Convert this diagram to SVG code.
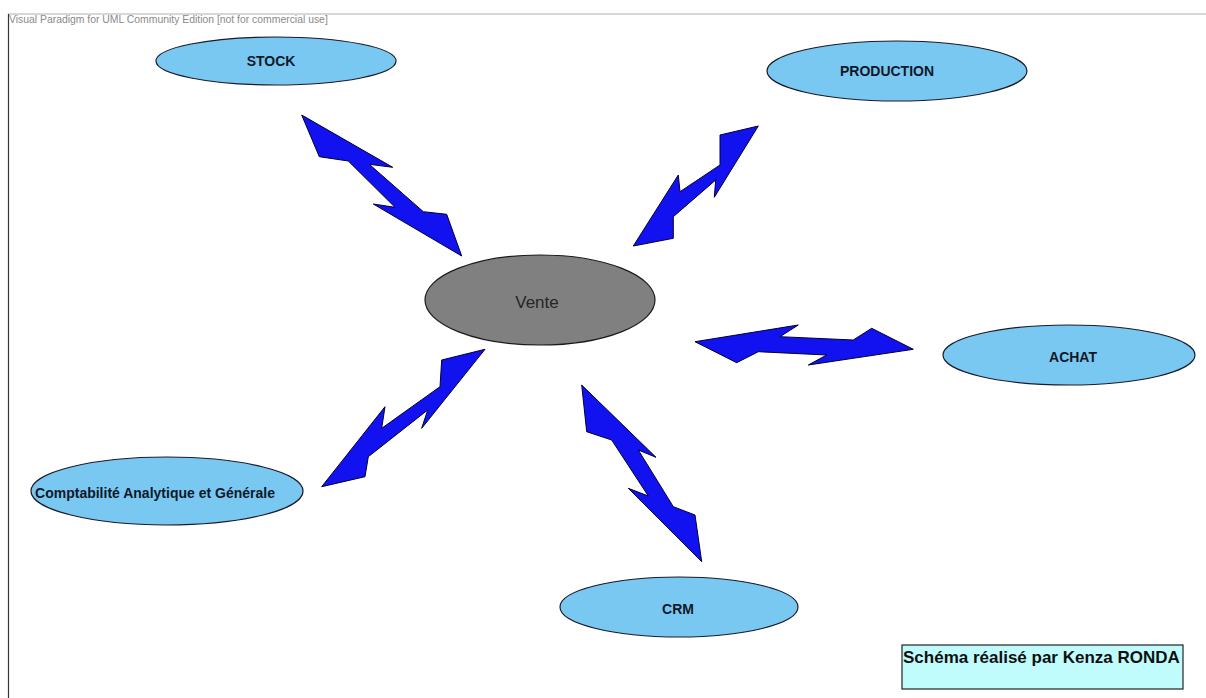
<svg xmlns="http://www.w3.org/2000/svg" width="1206" height="698" viewBox="0 0 1206 698">
<style>
.node{fill:#78C8F2;stroke:#1a1a2a;stroke-width:1.2}
.lbl{font-family:"Liberation Sans",Arial,sans-serif;font-weight:bold;font-size:14px;fill:#101828;text-anchor:middle}
.bolt{fill:#1212F0;stroke:#000033;stroke-width:1;stroke-linejoin:miter}
</style>
<rect x="0" y="0" width="1206" height="698" fill="#ffffff"/>
<g id="frame">
<line x1="8" y1="14" x2="1206" y2="14" stroke="#b0b0b0" stroke-width="1"/>
<line x1="8.5" y1="14" x2="8.5" y2="698" stroke="#333333" stroke-width="1.2"/>
<text x="9" y="23" font-family="'Liberation Sans',Arial,sans-serif" font-size="10.4" fill="#8a8a8a">Visual Paradigm for UML Community Edition [not for commercial use]</text>
</g>
<g id="connectors">
<polygon class="bolt" points="301.7,115 392.7,167.3 369.3,164.3 423.3,211.7 446.7,214.3 461.7,256 373.3,204 395,207.3 348.3,161 319.3,156.7"/>
<polygon class="bolt" points="758.3,126 714.3,197.3 715.7,180 673.3,216.7 673.3,238.3 633.3,246 678.3,175 680,191.7 720,165 720,135"/>
<polygon class="bolt" points="695,341.7 798.3,325 780,336.7 853.3,340 871.7,328.3 913.3,349.3 808.3,365 826.7,355 758.3,351.7 736.7,362.7"/>
<polygon class="bolt" points="485,349.3 421.7,428.3 427.7,410 368.3,456.7 365,476.7 321.7,486.7 385,406.7 381.7,428.3 440,386.7 441.7,360"/>
<polygon class="bolt" points="581.7,385 656,457.3 638.3,450 673.3,506.7 695,515 701.7,561.7 628.3,488.3 648.3,496 611.7,440 586.7,431.7"/>
</g>
<g id="stock">
<ellipse class="node" cx="276" cy="61" rx="120" ry="24"/>
<text class="lbl" x="271" y="66">STOCK</text>
</g>
<g id="production">
<ellipse class="node" cx="897" cy="71" rx="130" ry="30"/>
<text class="lbl" x="887" y="76">PRODUCTION</text>
</g>
<g id="vente">
<ellipse cx="540" cy="300" rx="115" ry="45" fill="#808080" stroke="#1a1a1a" stroke-width="1.2"/>
<text x="537" y="308" font-family="'Liberation Sans',Arial,sans-serif" font-size="17" fill="#262626" text-anchor="middle">Vente</text>
</g>
<g id="achat">
<ellipse class="node" cx="1069" cy="355" rx="126" ry="30"/>
<text class="lbl" x="1073" y="362">ACHAT</text>
</g>
<g id="crm">
<ellipse class="node" cx="679" cy="607" rx="119" ry="30"/>
<text class="lbl" x="678" y="614">CRM</text>
</g>
<g id="comptabilite">
<ellipse class="node" cx="167" cy="491" rx="136" ry="34"/>
<text class="lbl" x="155" y="498">Comptabilité Analytique et Générale</text>
</g>
<g id="signature">
<rect x="902" y="645" width="281" height="44" fill="#C0FCFC" stroke="#222222" stroke-width="1.2"/>
<text x="903" y="663" font-family="'Liberation Sans',Arial,sans-serif" font-weight="bold" font-size="17" fill="#101010">Schéma réalisé par Kenza RONDA</text>
</g>
</svg>
